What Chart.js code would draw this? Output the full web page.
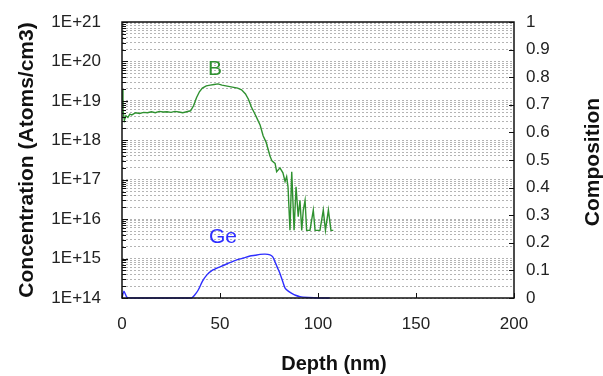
<!DOCTYPE html>
<html>
<head>
<meta charset="utf-8">
<script src="https://cdn.jsdelivr.net/npm/chart.js@4.4.1/dist/chart.umd.min.js"></script>
<style>
  html, body { margin: 0; padding: 0; background: #fff; }
  #wrap { width: 603px; height: 376px; }
</style>
</head>
<body>
<div id="wrap"><canvas id="sims"></canvas></div>
<script>
// depth profile data (nm)
var depthB = [0, 0.5, 1.2, 2, 3, 4, 5, 7, 9, 11, 13, 15, 17, 19, 21, 23, 25, 27, 29, 31, 33, 35,
  36.5, 38, 39.5, 41, 43, 45, 47, 49, 51, 53, 55, 57, 59, 61, 63, 64.5, 66, 67.5, 69, 70.5, 72,
  73.5, 75.5, 76.5, 78.1, 78.9, 80.6, 82.1, 83.2, 84, 84.7, 85.7, 86.6, 87.8, 88.8, 89.9, 90.8,
  91.7, 92.5, 93.4, 94.2, 95.9, 97.6, 98.5, 101, 102.7, 103.8, 105.3, 106.6, 107.8];
var concB = [2.0e19, 6e18, 3.2e18, 4.2e18, 3.8e18, 4.6e18, 4.4e18, 5.0e18, 4.8e18, 5.1e18, 5.0e18,
  5.3e18, 5.0e18, 5.4e18, 5.2e18, 5.3e18, 5.1e18, 5.4e18, 5.2e18, 5.0e18, 5.3e18, 5.6e18,
  7.5e18, 1.2e19, 1.7e19, 2.1e19, 2.4e19, 2.5e19, 2.6e19, 2.7e19, 2.5e19, 2.4e19, 2.3e19, 2.2e19,
  2.1e19, 1.9e19, 1.5e19, 1.1e19, 7e18, 5e18, 3.5e18, 2.4e18, 1.3e18, 9e17, 4e17, 3e17, 2.6e17,
  1.6e17, 2.0e17, 1.5e17, 9e16, 1.2e17, 6.6e16, 5.2e15, 1.6e17, 5.2e15, 6.6e16, 1.15e16, 3.0e16,
  5.2e15, 1.7e16, 3.0e16, 5.2e15, 5.2e15, 1.7e16, 5.2e15, 5.2e15, 1.7e16, 5.2e15, 1.7e16, 5.2e15, 5.2e15];

var depthGe = [0, 1, 2.5, 5, 10, 20, 30, 35.5, 37, 38.9, 41, 43.2, 46, 50, 54, 58.5, 62, 65.3, 68,
  70.4, 73, 75.5, 77, 78, 79.3, 80.6, 82, 83.2, 85, 86.6, 88.5, 90.8, 95, 100, 106];
var compGe = [0, 0.025, 0.003, 0, 0, 0, 0, 0, 0.01, 0.029, 0.06, 0.083, 0.1, 0.113, 0.125, 0.138,
  0.145, 0.152, 0.155, 0.158, 0.159, 0.156, 0.148, 0.132, 0.11, 0.089, 0.06, 0.036, 0.024, 0.017,
  0.01, 0.005, 0.002, 0, 0];

// tick labels
var decades = [14, 15, 16, 17, 18, 19, 20, 21];
var compTicks = [0, 0.1, 0.2, 0.3, 0.4, 0.5, 0.6, 0.7, 0.8, 0.9, 1];
var depthTicks = [0, 50, 100, 150, 200];

var green = "#2f9130";
var blue = "#2e2eff";
var fam = "Liberation Sans, Arial, sans-serif";
var tickFont = { family: fam, size: 17 };

// all log positions 1..9 per decade, for grid lines and minor ticks
var logTicks = [];
decades.forEach(function (d) {
  for (var m = 1; m <= 9; m++) {
    if (d === 21 && m > 1) break;
    logTicks.push(m * Math.pow(10, d));
  }
});

function toXY(xs, ys) {
  return xs.map(function (x, i) { return { x: x, y: ys[i] }; });
}

// frame, inner tick marks, curve labels, bottom and right titles
var extras = {
  id: "extras",
  afterDraw: function (chart) {
    var c = chart.ctx, a = chart.chartArea;
    var sx = chart.scales.x, sy = chart.scales.y, sy2 = chart.scales.y2;
    c.save();
    c.strokeStyle = "#111";
    c.lineWidth = 1;
    c.beginPath();
    logTicks.forEach(function (v) {
      var y = Math.round(sy.getPixelForValue(v)) + 0.5;
      var major = Math.abs(Math.log10(v) - Math.round(Math.log10(v))) < 1e-9;
      c.moveTo(a.left, y);
      c.lineTo(a.left + (major ? 6 : 4), y);
    });
    compTicks.forEach(function (v) {
      var y = Math.round(sy2.getPixelForValue(v)) + 0.5;
      c.moveTo(a.right, y);
      c.lineTo(a.right - 5, y);
    });
    depthTicks.forEach(function (v) {
      var x = Math.round(sx.getPixelForValue(v)) + 0.5;
      c.moveTo(x, a.bottom);
      c.lineTo(x, a.bottom - 5);
    });
    c.stroke();
    c.lineWidth = 1.5;
    c.strokeRect(a.left, a.top, a.right - a.left, a.bottom - a.top);

    c.font = "21px " + fam;
    c.textAlign = "center";
    c.textBaseline = "middle";
    c.fillStyle = green;
    c.fillText("B", sx.getPixelForValue(47.5), sy.getPixelForValue(6.5e19));
    c.fillStyle = blue;
    c.fillText("Ge", sx.getPixelForValue(51.5), sy2.getPixelForValue(0.222));

    c.fillStyle = "#111";
    c.font = "bold 20px " + fam;
    c.fillText("Depth (nm)", 334, 364);

    c.font = "bold 21px " + fam;
    c.translate(593, (a.top + a.bottom) / 2 + 2);
    c.rotate(-Math.PI / 2);
    c.fillText("Composition", 0, 0);
    c.restore();
  }
};

// keep the plot box fixed: ignore the label overhang chart.js adds
function fixWidth(w) {
  return function (s) {
    s.width = w;
    s.paddingTop = 0;
    s.paddingBottom = 0;
  };
}

var ctx = document.getElementById("sims").getContext("2d");

var simsChart = new Chart(ctx, {
  type: "line",
  data: {
    datasets: [
      {
        label: "B",
        data: toXY(depthB, concB),
        yAxisID: "y",
        borderColor: green,
        borderWidth: 1.4,
        pointRadius: 0,
        tension: 0,
      },
      {
        label: "Ge",
        data: toXY(depthGe, compGe),
        yAxisID: "y2",
        borderColor: blue,
        borderWidth: 1.4,
        pointRadius: 0,
        tension: 0.2,
        clip: 3,
      },
    ],
  },
  options: {
    responsive: true,
    maintainAspectRatio: false,
    animation: false,
    layout: { padding: { top: 22, left: 0, right: 0, bottom: 0 } },
    plugins: { legend: { display: false }, tooltip: { enabled: false } },
    scales: {
      x: {
        type: "linear",
        min: 0,
        max: 200,
        afterBuildTicks: function (s) {
          s.ticks = depthTicks.map(function (v) { return { value: v }; });
        },
        afterFit: function (s) { s.height = 78; },
        grid: { display: false },
        border: { display: false },
        ticks: { color: "#222", font: tickFont, padding: 8, maxRotation: 0 },
      },
      y: {
        type: "logarithmic",
        position: "left",
        min: 1e14,
        max: 1e21,
        afterBuildTicks: function (s) {
          s.ticks = logTicks.map(function (v) { return { value: v }; });
        },
        afterFit: fixWidth(122),
        grid: { color: "#b4b4b4", lineWidth: 1, drawTicks: false },
        border: { display: false, dash: [2, 2] },
        ticks: {
          color: "#222",
          font: tickFont,
          padding: 21,
          autoSkip: false,
          callback: function (v) {
            var e = Math.log10(v);
            return Math.abs(e - Math.round(e)) < 1e-9 ? "1E+" + Math.round(e) : "";
          },
        },
        title: {
          display: true, text: "Concentration (Atoms/cm3)", color: "#111",
          font: { family: fam, size: 21, weight: "bold" }, padding: { top: 15, bottom: 0 },
        },
      },
      y2: {
        type: "linear",
        position: "right",
        min: 0,
        max: 1,
        afterBuildTicks: function (s) {
          s.ticks = compTicks.map(function (v) { return { value: v }; });
        },
        afterFit: fixWidth(89),
        grid: { display: false },
        border: { display: false },
        ticks: {
          color: "#222",
          font: tickFont,
          padding: 4,
          callback: function (v) { return String(v); },
        },
      },
    },
  },
  plugins: [extras],
});
</script>
</body>
</html>
